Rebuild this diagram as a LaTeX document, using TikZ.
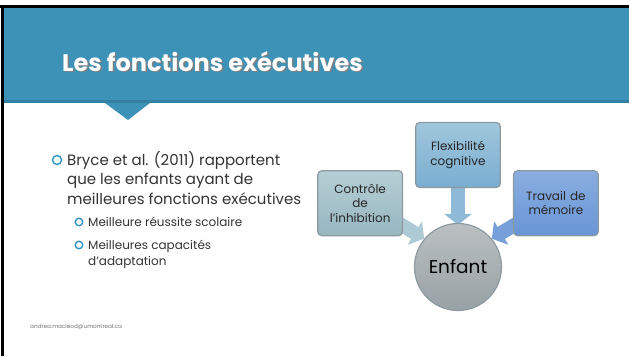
\documentclass[tikz,border=0pt]{standalone}
\usepackage{fontspec}
\setmainfont{Poppins}
\usepackage{tikz}
\usetikzlibrary{shapes.geometric, arrows.meta, positioning, backgrounds}

\definecolor{bandblue}{RGB}{61,146,184}
\definecolor{bandedge}{RGB}{52,128,163}
\definecolor{puceblue}{RGB}{52,150,198}
\definecolor{ctrltop}{RGB}{182,206,213}
\definecolor{ctrlbot}{RGB}{150,182,192}
\definecolor{flextop}{RGB}{160,198,220}
\definecolor{flexbot}{RGB}{122,174,209}
\definecolor{travtop}{RGB}{138,173,224}
\definecolor{travbot}{RGB}{104,150,214}
\definecolor{circtop}{RGB}{186,192,194}
\definecolor{circbot}{RGB}{152,161,164}
\definecolor{boxline}{RGB}{140,154,160}

\tikzstyle{fbox} = [rectangle, draw=boxline, line width=1.2pt, rounded corners=4pt,
    text width=78pt, align=center, minimum width=81pt, minimum height=65pt,
    font=\fontsize{12}{14.5}\selectfont, text=black!85]
\tikzstyle{ccircle} = [circle, draw=boxline, line width=1.2pt, minimum size=87pt,
    top color=circtop, bottom color=circbot, font=\fontsize{18.5}{22}\selectfont]
\tikzstyle{fatarrow} = [line width=14pt, -{Triangle[length=11pt, width=27pt]}]
\tikzstyle{bodytext} = [anchor=base west, align=left, inner sep=0pt, text=black!80,
    font=\fontsize{15}{19.5}\selectfont]
\tikzstyle{subtext} = [anchor=base west, align=left, inner sep=0pt, text=black!80,
    font=\fontsize{12}{15.5}\selectfont]
\tikzstyle{puce} = [circle, draw=puceblue, line width=1.4pt, inner sep=0pt]

\begin{document}
\begin{tikzpicture}[x=1pt, y=-1pt]
            \useasboundingbox (0,0) rectangle (629,356);
            % Slide frame and title band
            \fill [bandblue] (4,8) rectangle (629,103);
            \fill [bandedge] (4,100) rectangle (629,103);
            \fill [bandblue] (105,103) -- (150,103) -- (128,120) -- cycle;
            \draw [line width=3pt] (0,6.5) -- (629,6.5);
            \draw [line width=3pt] (2.5,5) -- (2.5,356);
            \node [anchor=base west, inner sep=0pt, text=black!50] at (63.5,72.5)
                {\fontsize{24}{28}\selectfont\bfseries Les fonctions exécutives};
            \node [anchor=base west, inner sep=0pt, text=white] (title) at (62,71)
                {\fontsize{24}{28}\selectfont\bfseries Les fonctions exécutives};

            % Place nodes
            \node [bodytext] (bryce) at (67,204) {Bryce et al. (2011) rapportent\\que les enfants ayant de\\meilleures fonctions exécutives};
            \node [puce, minimum size=9pt] (p1) at (57,160) {};
            \node [subtext] (reussite) at (88,226.5) {Meilleure réussite scolaire};
            \node [puce, minimum size=7.5pt] (p2) at (79,222) {};
            \node [subtext] (adapt) at (88,265) {Meilleures capacités\\d’adaptation};
            \node [puce, minimum size=7.5pt] (p3) at (79,245) {};
            \node [anchor=base west, inner sep=0pt, text=black!55] (mail) at (30,328)
                {\fontsize{5.7}{6}\selectfont andrea.macleod@umontreal.ca};

            \node [ccircle] (enfant) at (458,267) {Enfant};
            \node [fbox, top color=flextop, bottom color=flexbot, above of=enfant, node distance=112pt] (flex) {Flexibilité\\cognitive};
            \node [fbox, top color=ctrltop, bottom color=ctrlbot, below left=-18pt and 12pt of flex] (ctrl) {Contrôle\\de\\l’inhibition};
            \node [fbox, top color=travtop, bottom color=travbot, below right=-18pt and 12pt of flex] (trav) {Travail de\\mémoire};

            % Draw edges
            \begin{scope}[on background layer]
            \draw [fatarrow, color=ctrltop!85!flexbot] ([xshift=-6pt,yshift=14pt]ctrl.south east) -- (enfant.140);
            \draw [fatarrow, color=flexbot!85!white] (flex.south) -- ([yshift=-2pt]enfant.north);
            \draw [fatarrow, color=travbot!90!white] ([xshift=6pt,yshift=14pt]trav.south west) -- (enfant.40);
            \end{scope}

        \end{tikzpicture}
\end{document}
